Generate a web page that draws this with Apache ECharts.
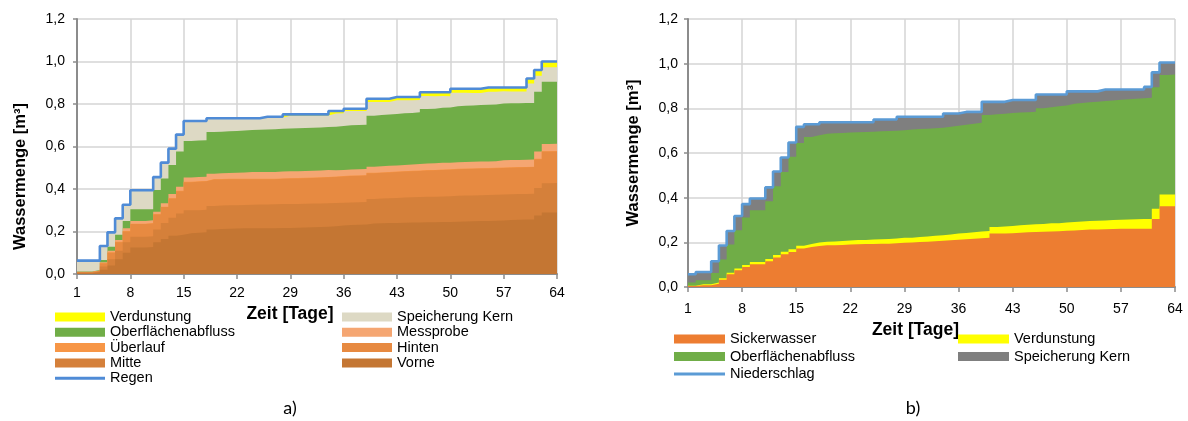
<!DOCTYPE html>
<html><head><meta charset="utf-8">
<script src="https://cdn.jsdelivr.net/npm/echarts@6/dist/echarts.min.js"></script>
<style>html,body{margin:0;padding:0;background:#fff}#c{width:1188px;height:421px}</style>
</head><body><div id="c"></div>
<script>
// ---- categories (Tage) ----
const days = [1,2,3,4,5,6,7,8,9,10,11,12,13,14,15,16,17,18,19,20,21,22,23,24,25,26,27,28,29,30,31,32,33,34,35,36,37,38,39,40,41,42,43,44,45,46,47,48,49,50,51,52,53,54,55,56,57,58,59,60,61,62,63,64];
const yTicks = [0,0.2,0.4,0.6,0.8,1.0,1.2];

// ---- chart a) layer amounts [m3] ----
const vorne = [.004,.004,.008,.02,.04,.07,.10,.125,.125,.127, .15,.165,.18,.185,.192,.194,.196,.21,.212,.213, .214,.215,.215,.215,.215,.215,.216,.217,.218,.219, .22,.221,.222,.225,.228,.231,.232,.233,.238,.239, .24,.24,.241,.242,.242,.243,.244,.245,.245,.246, .247,.248,.249,.25,.251,.252,.254,.255,.256,.256, .275,.289,.29,.29];
const mitte = [.003,.003,.004,.015,.03,.04,.05,.05,.05,.051, .06,.075,.085,.10,.108,.106,.106,.11,.11,.11, .11,.11,.111,.112,.112,.113,.113,.113,.112,.112, .112,.111,.111,.109,.107,.106,.106,.106,.115,.116, .117,.118,.119,.119,.12,.12,.12,.12,.121,.122, .122,.122,.122,.122,.122,.122,.121,.121,.121,.122, .13,.138,.138,.138];
const hinten = [.002,.002,.003,.015,.03,.04,.05,.06,.06,.06, .07,.075,.09,.105,.132,.134,.134,.125,.123,.123, .122,.121,.12,.119,.119,.118,.119,.119,.12,.12, .12,.121,.122,.123,.124,.124,.124,.124,.121,.121, .121,.122,.122,.123,.123,.124,.124,.125,.125,.125, .125,.125,.125,.125,.125,.125,.125,.125,.125,.125, .135,.149,.149,.149];
const ueberlauf = [0,0,0,.002,.002,.002,.002,.002,.002,.002, .002,.002,.002,.002,.002,.002,.002,.002,.002,.002, .002,.002,.002,.002,.002,.002,.002,.002,.002,.002, .002,.002,.002,.002,.002,.002,.002,.002,.002,.002, .002,.002,.002,.002,.002,.002,.002,.002,.002,.002, .002,.002,.002,.002,.002,.002,.002,.002,.002,.002, .002,.002,.002,.002];
const messprobe = [.002,.002,.002,.003,.008,.008,.013,.013,.013,.013, .011,.016,.019,.019,.02,.02,.02,.025,.027,.027, .029,.03,.032,.032,.032,.032,.032,.032,.032,.032, .032,.032,.032,.029,.029,.029,.029,.029,.029,.029, .029,.029,.029,.029,.031,.031,.031,.031,.031,.031, .031,.031,.031,.031,.031,.034,.034,.034,.034,.034, .034,.034,.034,.034];
const oberflaecheA = [.001,.001,.002,.011,.018,.025,.035,.055,.055,.052, .102,.117,.137,.165,.172,.172,.171,.196,.196,.197, .196,.197,.198,.199,.2,.201,.201,.202,.202,.202, .202,.202,.203,.205,.207,.208,.208,.208,.24,.241, .242,.242,.243,.243,.243,.256,.257,.259,.26,.264, .265,.265,.266,.267,.267,.267,.267,.267,.267,.266, .282,.293,.292,.292];
const speicherA = [.051,.051,.044,.066,.068,.077,.076,.089,.089,.089, .061,.074,.077,.08,.093,.093,.092,.063,.061,.059, .058,.056,.053,.051,.057,.055,.053,.06,.059,.058, .057,.056,.054,.062,.059,.067,.066,.065,.065,.062, .059,.065,.062,.06,.058,.062,.059,.056,.053,.063, .061,.059,.057,.061,.06,.058,.056,.055,.054,.092, .075,.068,.068,.068];
const verdunstA = [0,0,0,0,0,0,0,0,0,0, 0,0,0,0,0,0,0,.002,.002,.002, .002,.002,.002,.002,.003,.003,.003,.005,.005,.005, .005,.005,.005,.01,.01,.01,.01,.01,.015,.015, .015,.015,.015,.015,.015,.018,.018,.018,.018,.019, .019,.019,.019,.019,.019,.019,.019,.019,.019,.022, .025,.027,.027,.027];
const regen = [.063,.063,.063,.132,.196,.262,.326,.394,.394,.394, .456,.524,.59,.656,.72,.72,.72,.733,.733,.733, .733,.733,.733,.733,.74,.74,.74,.751,.751,.751, .751,.751,.751,.767,.767,.778,.778,.778,.825,.825, .825,.833,.833,.833,.833,.855,.855,.855,.855,.872, .872,.872,.872,.878,.878,.878,.878,.878,.878,.92, .96,1.0,1.0,1.0];

// ---- chart b) layer amounts [m3] ----
const sickerwasser = [.004,.008,.008,.015,.033,.057,.075,.09,.102,.102, .115,.132,.147,.157,.172,.179,.184,.187,.187,.188, .19,.191,.192,.193,.194,.194,.196,.198,.199,.201, .203,.205,.207,.209,.212,.214,.216,.218,.221,.239, .24,.241,.243,.245,.246,.247,.249,.25,.252,.253, .255,.257,.258,.259,.26,.261,.261,.261,.261,.261, .305,.362,.362,.362];
const verdunstB = [.002,.004,.004,.005,.006,.007,.008,.009,.01,.01, .01,.011,.011,.012,.013,.014,.015,.016,.017,.018, .018,.019,.019,.02,.02,.021,.021,.022,.022,.023, .023,.024,.025,.026,.027,.028,.029,.03,.03,.03, .031,.032,.033,.034,.035,.035,.036,.036,.037,.038, .038,.038,.039,.039,.04,.04,.041,.042,.043,.044, .045,.052,.052,.052];
const oberflaecheB = [.014,.018,.018,.043,.084,.126,.171,.212,.232,.232, .259,.308,.357,.414,.46,.479,.481,.483,.484,.484, .484,.483,.483,.482,.483,.484,.483,.482,.484,.483, .483,.482,.481,.483,.483,.485,.486,.487,.519,.504, .505,.506,.505,.504,.504,.518,.52,.523,.524,.529, .531,.532,.533,.535,.535,.537,.539,.54,.541,.542, .544,.535,.538,.541];
const speicherB = [.037,.037,.037,.052,.063,.061,.064,.06,.052,.052, .062,.066,.065,.064,.072,.057,.049,.052,.05,.048, .046,.045,.044,.043,.053,.051,.05,.06,.057,.055, .053,.051,.049,.059,.055,.057,.053,.049,.059,.056, .053,.058,.056,.054,.052,.062,.057,.053,.049,.056, .052,.049,.046,.051,.049,.046,.043,.041,.039,.049, .067,.056,.053,.05];
const niederschlag = [.057,.067,.067,.115,.186,.251,.318,.371,.396,.396, .446,.517,.58,.647,.717,.729,.729,.738,.738,.738, .738,.738,.738,.738,.75,.75,.75,.762,.762,.762, .762,.762,.762,.777,.777,.784,.784,.784,.829,.829, .829,.837,.837,.837,.837,.862,.862,.862,.862,.876, .876,.876,.876,.884,.884,.884,.884,.884,.884,.896, .961,1.005,1.005,1.005];

const FONT = '"Liberation Sans", Arial, sans-serif';
const AXIS = '#8C8C8C', GRID = '#D4D4D4';

// Stack the layers (bottom -> top) into running totals; each band is then painted
// from the axis up to its running total, topmost band first, so neighbouring bands
// share exactly the same stepped edge.
function stackLayers(layers, gi) {
  let acc = days.map(() => 0);
  const tops = layers.map(l => { acc = acc.map((v, i) => +(v + l.data[i]).toFixed(4)); return acc; });
  return layers.map((l, k) => ({
    name:l.name, type:'line', data:tops[k], step:'end', xAxisIndex:gi, yAxisIndex:gi,
    symbol:'none', showSymbol:false, lineStyle:{width:0}, areaStyle:{color:l.color, opacity:1, origin:'start'},
    itemStyle:{color:l.color, borderWidth:0}, color:l.color, silent:true, z:2
  })).reverse();
}
function line(name, data, color, gi) {
  return {name, type:'line', data, step:'end', xAxisIndex:gi, yAxisIndex:gi, symbol:'none', showSymbol:false,
    lineStyle:{width:2.6, color}, itemStyle:{color, borderWidth:0}, color, z:5, silent:true};
}
function xAx(gi, gap, padRight, lblMargin) {
  return {type:'category', gridIndex:gi, data:days, boundaryGap:false,
    axisLine:{lineStyle:{color:AXIS, width:2}},
    axisTick:{show:true, interval:6, length:5, lineStyle:{color:AXIS, width:1.5}},
    axisLabel:{interval:6, margin:lblMargin, color:'#000', fontSize:14, fontFamily:FONT},
    splitLine:{show:true, interval:6, lineStyle:{color:GRID, width:1.5}},
    name:'Zeit [Tage]', nameLocation:'middle', nameGap:gap,
    nameTextStyle:{fontSize:17.5, fontWeight:'bold', fontFamily:FONT, color:'#000', padding:[0,padRight,0,0]}};
}
function yAx(gi, gap, margin, padR) {
  return {type:'value', gridIndex:gi, min:yTicks[0], max:yTicks[yTicks.length-1], interval:0.2,
    axisLine:{show:true, lineStyle:{color:AXIS, width:2}},
    axisTick:{show:true, length:4, lineStyle:{color:AXIS, width:1.5}},
    axisLabel:{margin, color:'#000', fontSize:14, fontFamily:FONT, formatter:v=>v.toFixed(1).replace('.',',')},
    splitLine:{show:true, lineStyle:{color:GRID, width:1.5}},
    name:'Wassermenge [m³]', nameLocation:'middle', nameRotate:90, nameGap:gap,
    nameTextStyle:{fontSize:16.5, fontWeight:'bold', fontFamily:FONT, color:'#000', padding:[0,padR,0,0]}};
}
function lg(left, top, gap, w, data) {
  return {left, top, orient:'vertical', padding:0, itemWidth:w, itemHeight:9, itemGap:gap, icon:'rect',
    selectedMode:false, itemStyle:{borderWidth:0},
    formatter:n=>n.replace(' (b)',''),
    textStyle:{fontSize:14.5, fontFamily:FONT, color:'#000', lineHeight:15, padding:[0,0,0,0]}, data};
}
const lineIcon = 'path://M0,0H50V3H0Z';

const seriesA = stackLayers([
  {name:'Vorne', data:vorne, color:'#C47633'},
  {name:'Mitte', data:mitte, color:'#D5803A'},
  {name:'Hinten', data:hinten, color:'#E78A41'},
  {name:'Überlauf', data:ueberlauf, color:'#F79646'},
  {name:'Messprobe', data:messprobe, color:'#F5A672'},
  {name:'Oberflächenabfluss', data:oberflaecheA, color:'#70AD47'},
  {name:'Speicherung Kern', data:speicherA, color:'#DDD9C4'},
  {name:'Verdunstung', data:verdunstA, color:'#FFFF00'}
], 0);
const seriesB = stackLayers([
  {name:'Sickerwasser (b)', data:sickerwasser, color:'#ED7D31'},
  {name:'Verdunstung (b)', data:verdunstB, color:'#FFFF00'},
  {name:'Oberflächenabfluss (b)', data:oberflaecheB, color:'#70AD47'},
  {name:'Speicherung Kern (b)', data:speicherB, color:'#7F7F7F'}
], 1);

const option = {
  animation:false,
  grid:[{left:77, top:19, width:480, height:255}, {left:688, top:19, width:487, height:268}],
  xAxis:[xAx(0, 27, 54, 12), xAx(1, 31, 32, 15)],
  yAxis:[yAx(0, 48, 12, 60), yAx(1, 46, 10, 0)],
  legend:[
    lg(55, 309.5, 0.3, 50, ['Verdunstung','Oberflächenabfluss','Überlauf','Mitte',{name:'Regen', icon:lineIcon}]),
    lg(342, 309.5, 0.3, 50, ['Speicherung Kern','Messprobe','Hinten','Vorne']),
    lg(674, 331.5, 2.5, 51, ['Sickerwasser (b)','Oberflächenabfluss (b)',{name:'Niederschlag (b)', icon:lineIcon}]),
    lg(958, 331.5, 2.5, 51, ['Verdunstung (b)','Speicherung Kern (b)'])
  ],
  series:[
    ...seriesA,
    line('Regen', regen, '#4F8BD6', 0),
    ...seriesB,
    line('Niederschlag (b)', niederschlag, '#5B9BD5', 1)
  ],
  graphic:[
    {type:'text', x:290, y:408, style:{text:'a)', fontSize:18, fontFamily:'Lato, "Open Sans", sans-serif', fill:'#000', textAlign:'center', textVerticalAlign:'middle'}},
    {type:'text', x:913, y:408, style:{text:'b)', fontSize:18, fontFamily:'Lato, "Open Sans", sans-serif', fill:'#000', textAlign:'center', textVerticalAlign:'middle'}}
  ]
};
const chart = echarts.init(document.getElementById('c'));
chart.setOption(option);
</script></body></html>
